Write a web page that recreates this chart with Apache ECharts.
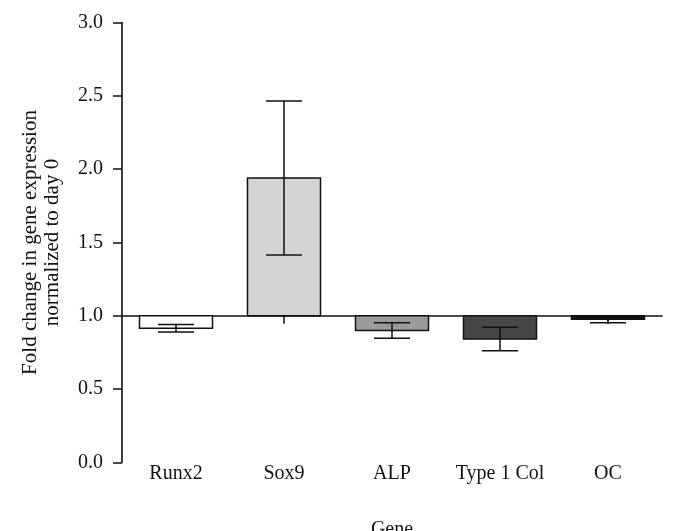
<!DOCTYPE html>
<html>
<head>
<meta charset="utf-8">
<script src="https://cdn.jsdelivr.net/npm/echarts@6/dist/echarts.min.js"></script>
<style>
html,body{margin:0;padding:0;background:#fff;}
#c{width:676px;height:531px;}
</style>
</head>
<body>
<div id="c"></div>
<script>
const categories = ['Runx2', 'Sox9', 'ALP', 'Type 1 Col', 'OC'];
const means = [0.915, 1.94, 0.90, 0.842, 0.976];
const errors = [0.026, 0.525, 0.053, 0.08, 0.024];
const yTicks = [0, 0.5, 1.0, 1.5, 2.0, 2.5, 3.0];
const baseline = 1.0;

const fills = ['#ffffff', '#d4d4d4', '#9b9b9b', '#474747', '#111111'];
const FONT = 'Liberation Serif';

const chart = echarts.init(document.getElementById('c'), null, {renderer: 'canvas'});
const gridTop = 22.5, gridBottom = 68.5;
const gridH = 531 - gridTop - gridBottom;
const yMin = yTicks[0], yMax = yTicks[yTicks.length - 1];

const barData = categories.map((c, i) => [i, means[i], errors[i]]);

chart.setOption({
  animation: false,
  backgroundColor: '#fff',
  grid: {left: 122, right: 14, top: gridTop, bottom: gridBottom, containLabel: false, outerBoundsMode: 'none'},
  xAxis: [
    {
      type: 'category', data: categories, position: 'bottom',
      axisLine: {show: false}, axisTick: {show: false},
      axisLabel: {color: '#111', fontFamily: FONT, fontSize: 20, margin: 1, interval: 0, hideOverlap: false},
      name: 'Gene', nameLocation: 'middle', nameGap: 57,
      nameTextStyle: {color: '#111', fontFamily: FONT, fontSize: 20}
    },
    {
      type: 'category', data: categories, position: 'bottom',
      offset: -(baseline - yMin) / (yMax - yMin) * gridH,
      axisLine: {show: true, lineStyle: {color: '#111', width: 1.6}},
      axisTick: {show: true, alignWithLabel: true, length: 8, interval: 0, lineStyle: {color: '#111', width: 1.5}},
      axisLabel: {show: false}
    }
  ],
  yAxis: {
    type: 'value', min: yMin, max: yMax, interval: 0.5,
    axisLine: {show: true, lineStyle: {color: '#111', width: 1.6}},
    axisTick: {show: true, length: 9, lineStyle: {color: '#111', width: 1.5}},
    splitLine: {show: false},
    axisLabel: {color: '#111', fontFamily: FONT, fontSize: 20, margin: 19,
      formatter: v => v.toFixed(1)},
    name: 'Fold change in gene expression\nnormalized to day 0',
    nameLocation: 'middle', nameGap: 59, nameRotate: 90,
    nameTextStyle: {color: '#111', fontFamily: FONT, fontSize: 21, lineHeight: 22}
  },
  series: [
    {
      type: 'custom', xAxisIndex: 0, yAxisIndex: 0, z: 3,
      data: barData,
      renderItem: function (params, api) {
        const i = api.value(0), v = api.value(1), e = api.value(2);
        const band = api.size([1, 0])[0];
        const w = band * 0.676;
        const capW = band * 0.333;
        const pBase = api.coord([i, baseline]);
        const pv = api.coord([i, v]);
        const pHi = api.coord([i, v + e]);
        const pLo = api.coord([i, v - e]);
        const top = Math.min(pBase[1], pv[1]);
        const h = Math.abs(pBase[1] - pv[1]);
        const cx = pv[0];
        return {
          type: 'group',
          children: [
            {type: 'rect', shape: {x: cx - w / 2, y: top, width: w, height: h},
             style: {fill: fills[params.dataIndex], stroke: '#111', lineWidth: 1.5}},
            {type: 'line', shape: {x1: cx, y1: pHi[1], x2: cx, y2: pLo[1]},
             style: {stroke: '#111', lineWidth: 1.5}},
            {type: 'line', shape: {x1: cx - capW / 2, y1: pHi[1], x2: cx + capW / 2, y2: pHi[1]},
             style: {stroke: '#111', lineWidth: 1.5}},
            {type: 'line', shape: {x1: cx - capW / 2, y1: pLo[1], x2: cx + capW / 2, y2: pLo[1]},
             style: {stroke: '#111', lineWidth: 1.5}}
          ]
        };
      }
    }
  ]
});
</script>
</body>
</html>
